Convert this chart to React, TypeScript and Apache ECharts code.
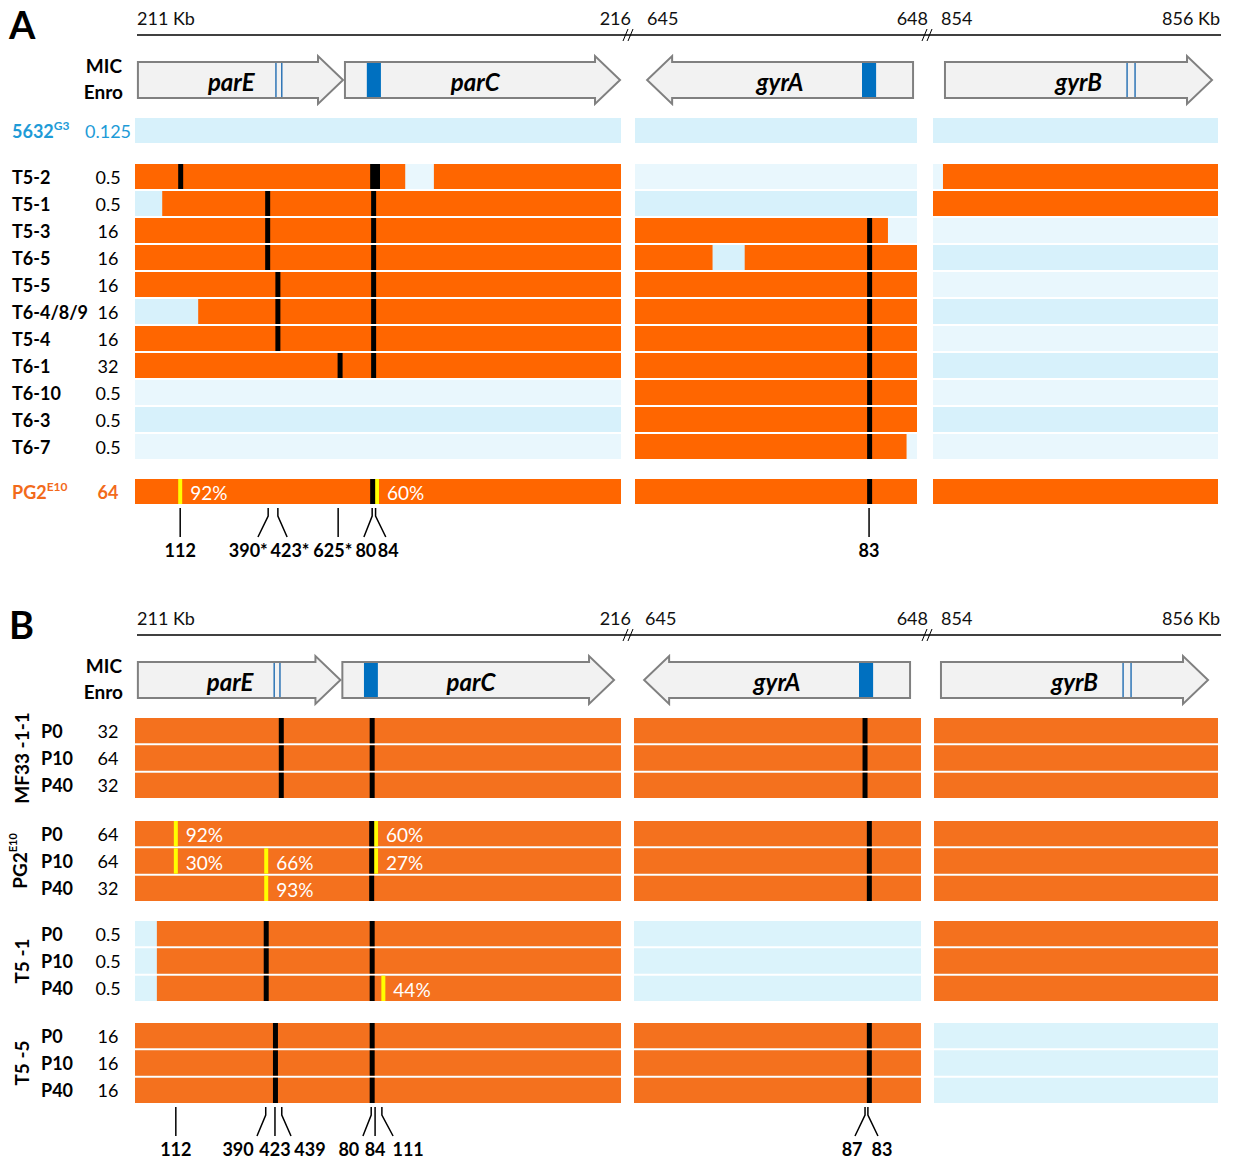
import React, { useEffect, useRef } from "react";
import * as echarts from "echarts";

const FONT = "Lato, 'Noto Sans', 'DejaVu Sans', sans-serif";

// ---------------- DATA ----------------
// scale labels (Kb) of the three genomic windows
const scaleLabels = ["211 Kb", "216", "645", "648", "854", "856 Kb"];

// genes: position in % of their genomic window
const geneNames = ["parE", "parC", "gyrA", "gyrB"];
const geneWindow = [0, 0, 1, 2];
const geneStart = [0.6, 43.2, 4.3, 4.2];
const geneEnd = [42.8, 99.8, 98.6, 97.9];
const geneStrand = [1, 1, -1, 1];
const geneLabelPos = [19.8, 70.0, 51.4, 51.1];
const geneQrdrBox: (number[] | null)[] = [null, [47.7, 50.6], [80.5, 85.5], null];
const geneQrdrLines: (number[] | null)[] = [[29.0, 30.2], null, null, [68.1, 70.9]];

// Panel A rows
const refStrainA = ["5632"];
const refMicA = ["0.125"];
const clonesA = ["T5-2", "T5-1", "T5-3", "T6-5", "T5-5", "T6-4/8/9", "T5-4", "T6-1", "T6-10", "T6-3", "T6-7"];
const clonesMicA = ["0.5", "0.5", "16", "16", "16", "16", "16", "32", "0.5", "0.5", "0.5"];
const pg2A = ["PG2"];
const pg2MicA = ["64"];

// [row, window (0 parE-parC, 1 gyrA, 2 gyrB), start %, end %] regions with PG2-type alleles
const orangeA: [string, number, number, number][] = [
  ["T5-2", 0, 0, 55.6], ["T5-2", 0, 61.5, 100], ["T5-2", 2, 3.5, 100],
  ["T5-1", 0, 5.6, 100], ["T5-1", 2, 0, 100],
  ["T5-3", 0, 0, 100], ["T5-3", 1, 0, 89.7],
  ["T6-5", 0, 0, 100], ["T6-5", 1, 0, 27.5], ["T6-5", 1, 38.9, 100],
  ["T5-5", 0, 0, 100], ["T5-5", 1, 0, 100],
  ["T6-4/8/9", 0, 13.0, 100], ["T6-4/8/9", 1, 0, 100],
  ["T5-4", 0, 0, 100], ["T5-4", 1, 0, 100],
  ["T6-1", 0, 0, 100], ["T6-1", 1, 0, 100],
  ["T6-10", 1, 0, 100], ["T6-3", 1, 0, 100], ["T6-7", 1, 0, 96.3],
  ["PG2", 0, 0, 100], ["PG2", 1, 0, 100], ["PG2", 2, 0, 100],
];
// [row, window, position %] fixed mutations
const fixedA: [string, number, number][] = [
  ["T5-2", 0, 9.4], ["T5-2", 0, 48.9], ["T5-2", 0, 49.9],
  ["T5-1", 0, 27.3], ["T5-1", 0, 49.1],
  ["T5-3", 0, 27.3], ["T5-3", 0, 49.1], ["T5-3", 1, 83.2],
  ["T6-5", 0, 27.3], ["T6-5", 0, 49.1], ["T6-5", 1, 83.2],
  ["T5-5", 0, 29.4], ["T5-5", 0, 49.1], ["T5-5", 1, 83.2],
  ["T6-4/8/9", 0, 29.4], ["T6-4/8/9", 0, 49.1], ["T6-4/8/9", 1, 83.2],
  ["T5-4", 0, 29.4], ["T5-4", 0, 49.1], ["T5-4", 1, 83.2],
  ["T6-1", 0, 42.2], ["T6-1", 0, 49.1], ["T6-1", 1, 83.2],
  ["T6-10", 1, 83.2], ["T6-3", 1, 83.2], ["T6-7", 1, 83.2],
  ["PG2", 0, 48.9], ["PG2", 1, 83.2],
];
// [row, window, position %, frequency] mixed mutations
const partialA: [string, number, number, string][] = [
  ["PG2", 0, 9.3, "92%"], ["PG2", 0, 49.8, "60%"],
];
// [window, tick top %, tick bottom %, label %, label]
const ticksA: [number, number, number, number, string][] = [
  [0, 9.3, 9.3, 9.3, "112"], [0, 27.4, 25.3, 23.3, "390*"], [0, 29.4, 31.3, 31.9, "423*"],
  [0, 41.8, 41.8, 40.7, "625*"], [0, 48.8, 47.1, 47.5, "80"], [0, 49.5, 51.6, 52.1, "84"],
  [1, 83.0, 83.0, 83.0, "83"],
];

// Panel B rows
const lineagesB = ["MF33", "PG2", "T5-1", "T5-5"];
const lineageNamesB = ["MF33 -1-1", "{gb|PG2}{gs|E10}", "T5 -1", "T5 -5"];
const passagesB = ["P0", "P10", "P40"];
const micB = [["32", "64", "32"], ["64", "64", "32"], ["0.5", "0.5", "0.5"], ["16", "16", "16"]];

const orangeB: [string, number, number, number][] = [
  ["MF33 P0", 0, 0, 100], ["MF33 P0", 1, 0, 100], ["MF33 P0", 2, 0, 100],
  ["MF33 P10", 0, 0, 100], ["MF33 P10", 1, 0, 100], ["MF33 P10", 2, 0, 100],
  ["MF33 P40", 0, 0, 100], ["MF33 P40", 1, 0, 100], ["MF33 P40", 2, 0, 100],
  ["PG2 P0", 0, 0, 100], ["PG2 P0", 1, 0, 100], ["PG2 P0", 2, 0, 100],
  ["PG2 P10", 0, 0, 100], ["PG2 P10", 1, 0, 100], ["PG2 P10", 2, 0, 100],
  ["PG2 P40", 0, 0, 100], ["PG2 P40", 1, 0, 100], ["PG2 P40", 2, 0, 100],
  ["T5-1 P0", 0, 4.5, 100], ["T5-1 P0", 2, 0, 100],
  ["T5-1 P10", 0, 4.5, 100], ["T5-1 P10", 2, 0, 100],
  ["T5-1 P40", 0, 4.5, 100], ["T5-1 P40", 2, 0, 100],
  ["T5-5 P0", 0, 0, 100], ["T5-5 P0", 1, 0, 100],
  ["T5-5 P10", 0, 0, 100], ["T5-5 P10", 1, 0, 100],
  ["T5-5 P40", 0, 0, 100], ["T5-5 P40", 1, 0, 100],
];
const fixedB: [string, number, number][] = [
  ["MF33 P0", 0, 30.1], ["MF33 P0", 0, 48.8], ["MF33 P0", 1, 80.5],
  ["MF33 P10", 0, 30.1], ["MF33 P10", 0, 48.8], ["MF33 P10", 1, 80.5],
  ["MF33 P40", 0, 30.1], ["MF33 P40", 0, 48.8], ["MF33 P40", 1, 80.5],
  ["PG2 P0", 0, 48.7], ["PG2 P0", 1, 82.0],
  ["PG2 P10", 0, 48.7], ["PG2 P10", 1, 82.0],
  ["PG2 P40", 0, 48.7], ["PG2 P40", 1, 82.0],
  ["T5-1 P0", 0, 27.0], ["T5-1 P0", 0, 48.8],
  ["T5-1 P10", 0, 27.0], ["T5-1 P10", 0, 48.8],
  ["T5-1 P40", 0, 27.0], ["T5-1 P40", 0, 48.8],
  ["T5-5 P0", 0, 28.9], ["T5-5 P0", 0, 48.8], ["T5-5 P0", 1, 82.0],
  ["T5-5 P10", 0, 28.9], ["T5-5 P10", 0, 48.8], ["T5-5 P10", 1, 82.0],
  ["T5-5 P40", 0, 28.9], ["T5-5 P40", 0, 48.8], ["T5-5 P40", 1, 82.0],
];
const partialB: [string, number, number, string][] = [
  ["PG2 P0", 0, 8.4, "92%"], ["PG2 P0", 0, 49.6, "60%"],
  ["PG2 P10", 0, 8.4, "30%"], ["PG2 P10", 0, 27.0, "66%"], ["PG2 P10", 0, 49.6, "27%"],
  ["PG2 P40", 0, 27.0, "93%"],
  ["T5-1 P40", 0, 51.1, "44%"],
];
const ticksB: [number, number, number, number, string][] = [
  [0, 8.4, 8.4, 8.4, "112"], [0, 26.9, 25.1, 21.2, "390"], [0, 28.8, 28.8, 28.8, "423"],
  [0, 30.2, 32.1, 36.0, "439"], [0, 48.6, 46.9, 44.0, "80"], [0, 49.4, 49.4, 49.4, "84"],
  [0, 50.8, 53.1, 56.2, "111"],
  [1, 80.5, 77.0, 76.0, "87"], [1, 81.5, 85.0, 86.4, "83"],
];

// ---------------- STYLE / LAYOUT ----------------
const BLUE_T = "#1e9bd7";
const ORANGE_T = "#f26a1b";
const A_COLORS = ["#e9f7fd", "#d7f1fb", "#ff6600"];
const B_COLORS = ["#dbf3fb", "#dbf3fb", "#f4711e"];
const windowsA = [[135, 486], [635, 282], [933, 285]];
const windowsB = [[135, 486], [634, 287], [934, 284]];
const geneBoxesA = [[135, 486], [635, 282], [933, 285]];
const geneBoxesB = [[135, 480], [632, 282], [929, 285]];

const RICH: any = {
  rb: { color: BLUE_T, fontWeight: "bold", fontSize: 18, fontFamily: FONT, lineHeight: 22 },
  rs: { color: BLUE_T, fontWeight: "bold", fontSize: 12, fontFamily: FONT, verticalAlign: "top", lineHeight: 12 },
  rn: { color: BLUE_T, fontWeight: "normal", fontSize: 18, fontFamily: FONT },
  ob: { color: ORANGE_T, fontWeight: "bold", fontSize: 18, fontFamily: FONT, lineHeight: 22 },
  os: { color: ORANGE_T, fontWeight: "bold", fontSize: 12, fontFamily: FONT, verticalAlign: "top", lineHeight: 12 },
  gb: { color: "#000", fontWeight: "bold", fontSize: 19, fontFamily: FONT, lineHeight: 24 },
  gs: { color: "#000", fontWeight: "bold", fontSize: 11, fontFamily: FONT, verticalAlign: "top", lineHeight: 12 },
};

function rowRenderer(colors: string[], labels: string[]) {
  return (params: any, api: any) => {
    const t = api.value(3);
    const row = api.value(1);
    const band = api.size([0, 1])[1];
    const h = band - 2;
    const a = api.coord([api.value(0), row]);
    const top = a[1] - h / 2;
    if (t <= 2) {
      const b = api.coord([api.value(2), row]);
      return {
        type: "rect",
        shape: { x: a[0], y: top, width: b[0] - a[0], height: h },
        style: { fill: colors[t] },
        z2: t === 2 ? 2 : 1,
      };
    }
    if (t === 3) {
      return { type: "rect", shape: { x: a[0] - 2.5, y: top, width: 5, height: h }, style: { fill: "#000" }, z2: 4 };
    }
    return {
      type: "group",
      children: [
        { type: "rect", shape: { x: a[0] - 2, y: top, width: 4, height: h }, style: { fill: "#ffff00" }, z2: 3 },
        {
          type: "text",
          x: a[0] + 10,
          y: a[1] + 1,
          style: { text: labels[params.dataIndex], fill: "#fff", fontSize: 19, fontFamily: FONT, align: "left", verticalAlign: "middle" },
          z2: 5,
        },
      ],
    };
  };
}

function tickRenderer(labels: string[]) {
  return (params: any, api: any) => {
    const y0 = params.coordSys.y;
    const xt = api.coord([api.value(0), 0])[0];
    const xb = api.coord([api.value(2), 0])[0];
    const xl = api.coord([api.value(3), 0])[0];
    const pts = Math.abs(xt - xb) < 0.5 ? [[xt, y0], [xt, y0 + 29]] : [[xt, y0], [xt, y0 + 8], [xb, y0 + 29]];
    return {
      type: "group",
      children: [
        { type: "polyline", shape: { points: pts }, style: { stroke: "#000", lineWidth: 1.5, fill: null } },
        {
          type: "text",
          x: xl,
          y: y0 + 42,
          style: { text: labels[params.dataIndex], fontFamily: FONT, fontSize: 18, fontWeight: "bold", fill: "#000", align: "center", verticalAlign: "middle" },
        },
      ],
    };
  };
}

function geneRenderer(params: any, api: any) {
  const cs = params.coordSys;
  const yc = cs.y + cs.height / 2;
  const gi = api.value(3);
  const X = (v: number) => api.coord([v, 0.5])[0];
  const x0 = X(api.value(0));
  const x1 = X(api.value(2));
  const bh = 18, hh = 24, hl = 25;
  let pts: number[][];
  if (geneStrand[gi] > 0) {
    const xh = x1 - hl;
    pts = [[x0, yc - bh], [xh, yc - bh], [xh, yc - hh], [x1, yc], [xh, yc + hh], [xh, yc + bh], [x0, yc + bh]];
  } else {
    const xh = x0 + hl;
    pts = [[x1, yc - bh], [xh, yc - bh], [xh, yc - hh], [x0, yc], [xh, yc + hh], [xh, yc + bh], [x1, yc + bh]];
  }
  const children: any[] = [
    { type: "polygon", shape: { points: pts }, style: { fill: "#f2f2f2", stroke: null }, z2: 1 },
  ];
  const box = geneQrdrBox[gi];
  if (box) {
    const b0 = X(box[0]), b1 = X(box[1]);
    children.push({ type: "rect", shape: { x: b0, y: yc - bh, width: b1 - b0, height: bh * 2 }, style: { fill: "#0070c0" }, z2: 2 });
  }
  const lines = geneQrdrLines[gi];
  if (lines) {
    lines.forEach((l) => {
      const lx = X(l);
      children.push({ type: "line", shape: { x1: lx, y1: yc - bh, x2: lx, y2: yc + bh }, style: { stroke: "#2e75b6", lineWidth: 1.5 }, z2: 2 });
    });
  }
  children.push({ type: "polygon", shape: { points: pts }, style: { fill: null, stroke: "#808080", lineWidth: 2 }, z2: 3 });
  children.push({
    type: "text",
    x: X(geneLabelPos[gi]),
    y: yc + 1,
    style: { text: geneNames[gi], fontFamily: FONT, fontSize: 24, fontWeight: "bold", fontStyle: "italic", fill: "#000", align: "center", verticalAlign: "middle" },
    z2: 4,
  });
  return { type: "group", children };
}

function buildOption() {
  const grid: any[] = [];
  const xAxis: any[] = [];
  const yAxis: any[] = [];
  const series: any[] = [];

  const addCoord = (left: number, top: number, width: number, height: number, yAx: any) => {
    const gi = grid.length;
    grid.push({ left, top, width, height });
    const xi = xAxis.length;
    xAxis.push({ gridIndex: gi, type: "value", min: 0, max: 100, show: false });
    const yi = yAxis.length;
    yAxis.push({ gridIndex: gi, ...yAx });
    return { gi, xi, yi };
  };

  const hiddenValueY = { type: "value", min: 0, max: 1, show: false };

  const addGenes = (boxes: number[][], top: number) => {
    boxes.forEach(([left, width], w) => {
      const { xi, yi } = addCoord(left, top, width, 48, hiddenValueY);
      const data: number[][] = [];
      geneNames.forEach((_, g) => {
        if (geneWindow[g] === w) data.push([geneStart[g], 0.5, geneEnd[g], g]);
      });
      series.push({ type: "custom", xAxisIndex: xi, yAxisIndex: yi, data, renderItem: geneRenderer, silent: true, clip: false });
    });
  };

  const addTicks = (wins: number[][], top: number, ticks: [number, number, number, number, string][]) => {
    wins.forEach(([left, width], w) => {
      const sel = ticks.filter((t) => t[0] === w);
      if (!sel.length) return;
      const { xi, yi } = addCoord(left, top, width, 50, hiddenValueY);
      series.push({
        type: "custom", xAxisIndex: xi, yAxisIndex: yi, silent: true, clip: false,
        data: sel.map((t) => [t[1], 0, t[2], t[3]]),
        renderItem: tickRenderer(sel.map((t) => t[4])),
      });
    });
  };

  const addRowGroup = (p: {
    keys: string[]; names: string[]; mics: string[]; wins: number[][]; top: number; height: number;
    colors: string[]; bg: (i: number) => number;
    orange: [string, number, number, number][]; fixed: [string, number, number][]; partial: [string, number, number, string][];
    nameMargin: number; groupName?: string;
  }) => {
    p.wins.forEach(([left, width], w) => {
      const first = w === 0;
      const yAx: any = {
        type: "category", inverse: true, data: p.names, show: first, position: "left",
        axisLine: { show: false }, axisTick: { show: false }, splitLine: { show: false },
        axisLabel: { interval: 0, align: "left", margin: p.nameMargin, fontFamily: FONT, fontSize: 18, fontWeight: "bold", color: "#000", rich: RICH },
      };
      if (first && p.groupName) {
        yAx.name = p.groupName;
        yAx.nameLocation = "middle";
        yAx.nameRotate = 90;
        yAx.nameGap = 104;
        yAx.nameTextStyle = { fontFamily: FONT, fontSize: 19, fontWeight: "bold", color: "#000", rich: RICH };
      }
      const { gi, xi, yi } = addCoord(left, p.top, width, p.height, yAx);
      if (first) {
        yAxis.push({
          gridIndex: gi, type: "category", inverse: true, data: p.mics, position: "left", offset: 0,
          axisLine: { show: false }, axisTick: { show: false }, splitLine: { show: false },
          axisLabel: { interval: 0, align: "center", margin: 27, fontFamily: FONT, fontSize: 18, color: "#000", rich: RICH },
        });
      }
      const data: number[][] = [];
      const labels: string[] = [];
      p.keys.forEach((_, i) => { data.push([0, i, 100, p.bg(i)]); labels.push(""); });
      p.orange.forEach(([k, win, s, e]) => {
        const i = p.keys.indexOf(k);
        if (i >= 0 && win === w) { data.push([s, i, e, 2]); labels.push(""); }
      });
      p.partial.forEach(([k, win, pos, f]) => {
        const i = p.keys.indexOf(k);
        if (i >= 0 && win === w) { data.push([pos, i, pos, 4]); labels.push(f); }
      });
      p.fixed.forEach(([k, win, pos]) => {
        const i = p.keys.indexOf(k);
        if (i >= 0 && win === w) { data.push([pos, i, pos, 3]); labels.push(""); }
      });
      series.push({ type: "custom", xAxisIndex: xi, yAxisIndex: yi, data, renderItem: rowRenderer(p.colors, labels), silent: true, clip: false });
    });
  };

  // ---------- Panel A ----------
  addGenes(geneBoxesA, 56);
  addRowGroup({
    keys: refStrainA, names: refStrainA.map((n) => `{rb|${n}}{rs|G3}`), mics: refMicA.map((m) => `{rn|${m}}`),
    wins: windowsA, top: 117, height: 27, colors: A_COLORS, bg: () => 1,
    orange: orangeA, fixed: fixedA, partial: partialA, nameMargin: 123,
  });
  addRowGroup({
    keys: clonesA, names: clonesA, mics: clonesMicA,
    wins: windowsA, top: 163, height: 27 * clonesA.length, colors: A_COLORS, bg: (i) => i % 2,
    orange: orangeA, fixed: fixedA, partial: partialA, nameMargin: 123,
  });
  addRowGroup({
    keys: pg2A, names: pg2A.map((n) => `{ob|${n}}{os|E10}`), mics: pg2MicA.map((m) => `{ob|${m}}`),
    wins: windowsA, top: 478, height: 27, colors: A_COLORS, bg: () => 1,
    orange: orangeA, fixed: fixedA, partial: partialA, nameMargin: 123,
  });
  addTicks(windowsA, 508, ticksA);

  // ---------- Panel B ----------
  addGenes(geneBoxesB, 656);
  const groupTopsB = [717, 820, 920, 1022];
  lineagesB.forEach((lin, g) => {
    addRowGroup({
      keys: passagesB.map((p) => `${lin} ${p}`), names: passagesB, mics: micB[g],
      wins: windowsB, top: groupTopsB[g], height: 82, colors: B_COLORS, bg: () => 0,
      orange: orangeB, fixed: fixedB, partial: partialB, nameMargin: 94, groupName: lineageNamesB[g],
    });
  });
  addTicks(windowsB, 1107, ticksB);

  // ---------- decorations ----------
  const graphic: any[] = [];
  const txt = (x: number, y: number, text: string, extra: any) => ({
    type: "text", x, y, style: { text, fontFamily: FONT, fill: "#000", verticalAlign: "middle", ...extra },
  });
  [0, 600].forEach((dy, panel) => {
    graphic.push(txt(9, 24 + dy, panel === 0 ? "A" : "B", { fontSize: 38, fontWeight: "bold", align: "left" }));
    graphic.push({ type: "line", shape: { x1: 137, y1: 35 + dy, x2: 1221, y2: 35 + dy }, style: { stroke: "#000", lineWidth: 1.5 } });
    [630, 929].forEach((cx) => {
      graphic.push({ type: "line", shape: { x1: cx - 7, y1: 41 + dy, x2: cx - 2, y2: 29 + dy }, style: { stroke: "#000", lineWidth: 1 } });
      graphic.push({ type: "line", shape: { x1: cx - 2, y1: 41 + dy, x2: cx + 3, y2: 29 + dy }, style: { stroke: "#000", lineWidth: 1 } });
    });
    const sx = [137, 631, panel === 0 ? 647 : 645, 928, 941, 1220];
    const al = ["left", "right", "left", "right", "left", "right"];
    scaleLabels.forEach((s, i) => graphic.push(txt(sx[i], 18 + dy, s, { fontSize: 18, align: al[i], fill: "#111" })));
    graphic.push(txt(122, 65 + dy, "MIC", { fontSize: 19, fontWeight: "bold", align: "right" }));
    graphic.push(txt(123, 91 + dy, "Enro", { fontSize: 19, fontWeight: "bold", align: "right" }));
  });

  return { animation: false, backgroundColor: "#fff", grid, xAxis, yAxis, series, graphic };
}

export default function App() {
  const ref = useRef<HTMLDivElement>(null);
  useEffect(() => {
    const chart = echarts.init(ref.current!, null, { renderer: "svg", width: 1233, height: 1161 });
    chart.setOption(buildOption() as any);
    return () => chart.dispose();
  }, []);
  return (
    <div
      ref={ref}
      style={{ position: "absolute", left: 0, top: 0, width: 1233, height: 1161, background: "#fff" }}
    />
  );
}
